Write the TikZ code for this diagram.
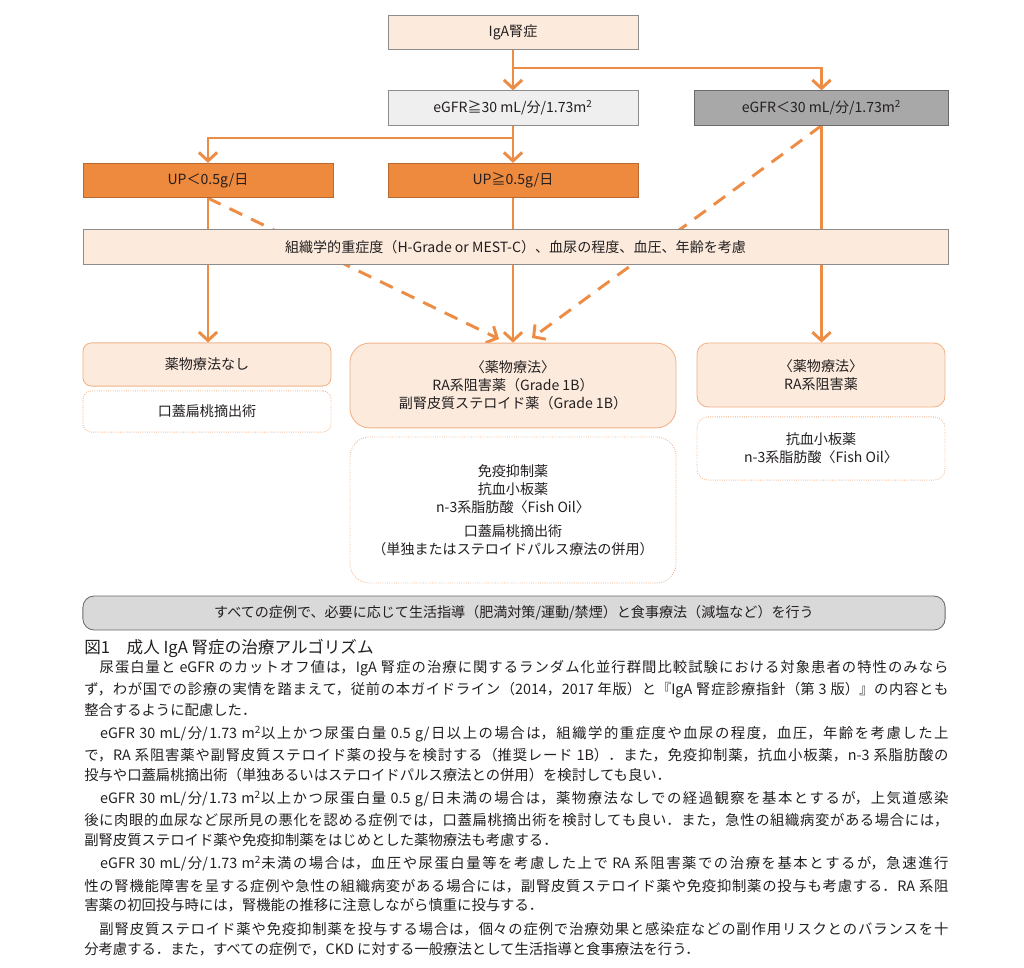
\documentclass[tikz,border=0pt]{standalone}
\usepackage{fontspec}
\setmainfont{Noto Sans CJK JP}
\usepackage{xcolor}
\usepackage{tikz}
\usetikzlibrary{positioning,arrows.meta,backgrounds}
\XeTeXlinebreaklocale "ja"
\XeTeXlinebreakskip=0pt plus 2pt
\definecolor{ArrowOrange}{HTML}{EC8C45}
\definecolor{UpOrange}{HTML}{EE8A3E}
\definecolor{UpEdge}{HTML}{B86A30}
\definecolor{Peach}{HTML}{FCEBDD}
\definecolor{SoftOrange}{HTML}{F1B287}
\definecolor{EdgeGray}{HTML}{8C8C8C}
\definecolor{LightGray}{HTML}{EFEFEF}
\definecolor{MidGray}{HTML}{A8A8A8}
\definecolor{DarkEdge}{HTML}{6A6A6A}
\definecolor{BarGray}{HTML}{D9D9D9}
\definecolor{TextDark}{HTML}{231F20}
\newcommand{\boxfont}{\fontsize{10}{12.8}\selectfont}
\newcommand{\bodyfont}{\fontsize{10.2}{12}\selectfont}
\newcommand{\bodyline}[1]{\parbox{21.6cm}{\tolerance=10000 \hbadness=10000
    \spaceskip=0.25em plus 1pt \parfillskip=0pt \noindent #1\par}}

\begin{document}
\begin{tikzpicture}[
        x=0.025cm, y=-0.025cm,
        every node/.style={font=\boxfont, text=TextDark},
        RB/.style={draw=EdgeGray, line width=0.6pt, inner sep=0pt,
            minimum height=0.86cm, minimum width=6.25cm, align=center},
        GE/.style={RB, fill=LightGray},
        LT/.style={RB, fill=MidGray, draw=DarkEdge, minimum width=6.33cm},
        UP/.style={RB, fill=UpOrange, draw=UpEdge},
        PE/.style={RB, fill=Peach},
        TR/.style={draw=SoftOrange, fill=Peach, line width=0.6pt,
            rounded corners=6pt, inner sep=0pt, align=center, minimum width=6.2cm},
        OP/.style={draw=SoftOrange, densely dotted, line width=0.6pt, fill=white,
            rounded corners=6pt, inner sep=0pt, align=center, minimum width=6.2cm},
        arr/.style={-{Straight Barb[length=6pt,width=13pt]}, line width=2.1pt, ArrowOrange},
        darr/.style={arr, dash pattern=on 10pt off 7pt},
        para/.style={anchor=west, inner sep=0pt, font=\bodyfont,
            text height=8pt, text depth=2pt},
      ]
      \useasboundingbox (0,0) rectangle (1024,967);

      % Main nodes
      \node[PE] (iga)  at (513, 32.5) {IgA腎症};
      \node[GE] (ge30) at (513, 108)  {eGFR≧30 mL/分/1.73m\textsuperscript{2}};
      \node[LT] (lt30) at (821.5, 108) {eGFR＜30 mL/分/1.73m\textsuperscript{2}};

      \node[UP] (uplo) at (208, 180.5) {UP＜0.5g/日};
      \node[UP] (uphi) at (513, 180.5) {UP≧0.5g/日};

      \node[PE, minimum width=21.62cm] (band) at (515.5, 247)
        {組織学的重症度（H-Grade or MEST-C）、血尿の程度、血圧、年齢を考慮};

      \node[TR, minimum height=1.08cm] (none) at (207, 364.5) {薬物療法なし};
      \node[OP, minimum height=1.03cm] (tonsL) at (207, 411.5) {口蓋扁桃摘出術};

      \node[TR, minimum width=8.15cm, minimum height=2.12cm, rounded corners=14pt] (medC)
        at (513, 385.5) {〈薬物療法〉\\RA系阻害薬（Grade 1B）\\副腎皮質ステロイド薬（Grade 1B）};
      \node[OP, minimum width=8.15cm, minimum height=3.65cm, rounded corners=14pt] (optC)
        at (513, 510) {免疫抑制薬\\抗血小板薬\\n-3系脂肪酸〈Fish Oil〉\\[4pt]
          口蓋扁桃摘出術\\（単独またはステロイドパルス療法の併用）};

      \node[TR, minimum height=1.6cm, rounded corners=8pt] (medR) at (821, 375)
        {〈薬物療法〉\\RA系阻害薬};
      \node[OP, minimum height=1.58cm, rounded corners=8pt] (optR) at (821, 448.5)
        {抗血小板薬\\n-3系脂肪酸〈Fish Oil〉};

      \node[RB, fill=BarGray, draw=DarkEdge, rounded corners=8pt,
        minimum width=21.55cm, minimum height=0.85cm] (life) at (514, 613)
        {すべての症例で、必要に応じて生活指導（肥満対策/運動/禁煙）と食事療法（減塩など）を行う};

      % Branch helper coordinates
      \coordinate (splitA) at (513, 68);
      \coordinate (splitB) at (513, 138);
      \coordinate (tipL) at (499, 339);
      \coordinate (tipR) at (532, 338);

      % Arrows (kept under the band)
      \begin{scope}[on background layer]
        \draw[arr] (iga.south) -- (ge30.north);
        \draw[arr] (splitA) -| (lt30.north);
        \draw[arr] (ge30.south) -- (uphi.north);
        \draw[arr] (splitB) -| (uplo.north);

        \draw[arr] (uplo.south) -- (uplo.south |- none.north);
        \draw[arr] (uphi.south) -- (medC.north);
        \draw[arr] (lt30.south) -- (lt30.south |- medR.north);

        \draw[darr] (uplo.south) -- (tipL);
        \draw[darr] (lt30.south) -- (tipR);
      \end{scope}

      % Caption and text
      \node[anchor=west, inner sep=0pt, font=\fontsize{11.8}{14}\selectfont] (cap)
        at (84, 648) {図1　成人 IgA 腎症の治療アルゴリズム};

      \node[para] (l1) at (84, 668) {\bodyline{　尿蛋白量と eGFR のカットオフ値は，IgA 腎症の治療に関するランダム化並行群間比較試験における対象患者の特性のみなら}};
      \node[para] (l2) at (84, 689.7) {\bodyline{ず，わが国での診療の実情を踏まえて，従前の本ガイドライン（2014，2017 年版）と『IgA 腎症診療指針（第 3 版）』の内容とも}};
      \node[para] (l3) at (84, 711.4) {整合するように配慮した．};
      \node[para] (l4) at (84, 733.1) {\bodyline{　eGFR 30 mL/分/1.73 m\textsuperscript{2}以上かつ尿蛋白量 0.5 g/日以上の場合は，組織学的重症度や血尿の程度，血圧，年齢を考慮した上}};
      \node[para] (l5) at (84, 754.8) {\bodyline{で，RA 系阻害薬や副腎皮質ステロイド薬の投与を検討する（推奨レード 1B）．また，免疫抑制薬，抗血小板薬，n-3 系脂肪酸の}};
      \node[para] (l6) at (84, 776.5) {投与や口蓋扁桃摘出術（単独あるいはステロイドパルス療法との併用）を検討しても良い．};
      \node[para] (l7) at (84, 798.2) {\bodyline{　eGFR 30 mL/分/1.73 m\textsuperscript{2}以上かつ尿蛋白量 0.5 g/日未満の場合は，薬物療法なしでの経過観察を基本とするが，上気道感染}};
      \node[para] (l8) at (84, 819.9) {\bodyline{後に肉眼的血尿など尿所見の悪化を認める症例では，口蓋扁桃摘出術を検討しても良い．また，急性の組織病変がある場合には，}};
      \node[para] (l9) at (84, 841.6) {副腎皮質ステロイド薬や免疫抑制薬をはじめとした薬物療法も考慮する．};
      \node[para] (l10) at (84, 863.3) {\bodyline{　eGFR 30 mL/分/1.73 m\textsuperscript{2}未満の場合は，血圧や尿蛋白量等を考慮した上で RA 系阻害薬での治療を基本とするが，急速進行}};
      \node[para] (l11) at (84, 885) {\bodyline{性の腎機能障害を呈する症例や急性の組織病変がある場合には，副腎皮質ステロイド薬や免疫抑制薬の投与も考慮する．RA 系阻}};
      \node[para] (l12) at (84, 906.7) {害薬の初回投与時には，腎機能の推移に注意しながら慎重に投与する．};
      \node[para] (l13) at (84, 928.4) {\bodyline{　副腎皮質ステロイド薬や免疫抑制薬を投与する場合は，個々の症例で治療効果と感染症などの副作用リスクとのバランスを十}};
      \node[para] (l14) at (84, 950.1) {分考慮する．また，すべての症例で，CKD に対する一般療法として生活指導と食事療法を行う．};

    \end{tikzpicture}
\end{document}
